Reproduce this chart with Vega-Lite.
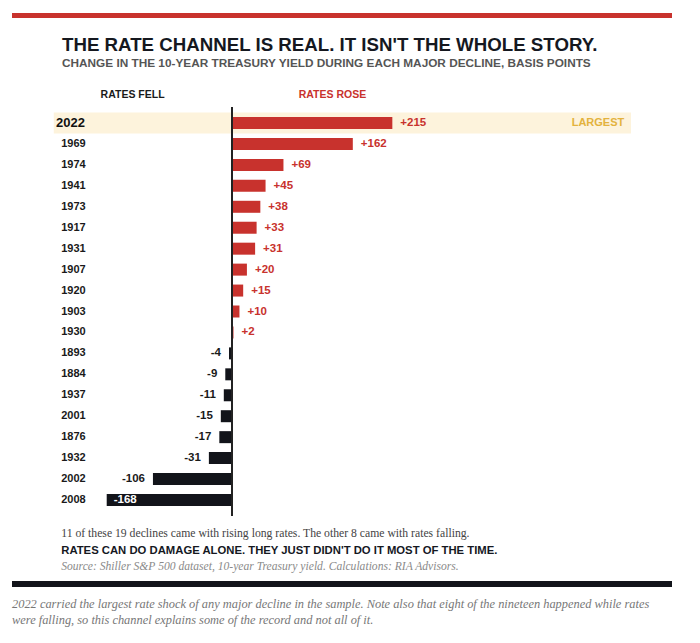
{
  "$schema": "https://vega.github.io/schema/vega-lite/v6.json",
  "description": "Change in the 10-year Treasury yield during each major decline, basis points.",
  "background": "white",
  "padding": {"left": 12, "top": 13, "right": 0, "bottom": 0},
  "config": {
    "view": {"stroke": null},
    "font": "Liberation Sans"
  },
  "datasets": {
    "declines": [
      {"year": "2022", "bp": 215, "note": "LARGEST"},
      {"year": "1969", "bp": 162},
      {"year": "1974", "bp": 69},
      {"year": "1941", "bp": 45},
      {"year": "1973", "bp": 38},
      {"year": "1917", "bp": 33},
      {"year": "1931", "bp": 31},
      {"year": "1907", "bp": 20},
      {"year": "1920", "bp": 15},
      {"year": "1903", "bp": 10},
      {"year": "1930", "bp": 2},
      {"year": "1893", "bp": -4},
      {"year": "1884", "bp": -9},
      {"year": "1937", "bp": -11},
      {"year": "2001", "bp": -15},
      {"year": "1876", "bp": -17},
      {"year": "1932", "bp": -31},
      {"year": "2002", "bp": -106},
      {"year": "2008", "bp": -168}
    ],
    "footer": [
      {"line": 1, "text": "11 of these 19 declines came with rising long rates. The other 8 came with rates falling."},
      {"line": 2, "text": "RATES CAN DO DAMAGE ALONE. THEY JUST DIDN'T DO IT MOST OF THE TIME."},
      {"line": 3, "text": "Source: Shiller S&P 500 dataset, 10-year Treasury yield. Calculations: RIA Advisors."}
    ],
    "caption": [
      {"line": 1, "text": "2022 carried the largest rate shock of any major decline in the sample. Note also that eight of the nineteen happened while rates"},
      {"line": 2, "text": "were falling, so this channel explains some of the record and not all of it."}
    ]
  },
  "spacing": 11,
  "vconcat": [
    {
      "spacing": 17,
      "vconcat": [
        {
          "width": 660,
          "height": 5,
          "data": {"values": [{"part": "top rule"}]},
          "mark": {"type": "rect", "color": "#c8322d"}
        },
        {
          "width": 660,
          "height": 409,
          "title": {
            "text": "THE RATE CHANNEL IS REAL. IT ISN'T THE WHOLE STORY.",
            "subtitle": "CHANGE IN THE 10-YEAR TREASURY YIELD DURING EACH MAJOR DECLINE, BASIS POINTS",
            "anchor": "start",
            "frame": "group",
            "dx": 50,
            "font": "Liberation Sans",
            "fontSize": 18.7,
            "fontWeight": "bold",
            "color": "#15181f",
            "subtitleFont": "Liberation Sans",
            "subtitleFontSize": 11.8,
            "subtitleFontWeight": "bold",
            "subtitleColor": "#555555",
            "subtitlePadding": 4,
            "offset": 19
          },
          "data": {"name": "declines"},
          "transform": [
            {"calculate": "(datum.bp > 0 ? '+' : '') + datum.bp", "as": "label"}
          ],
          "encoding": {
            "y": {
              "field": "year",
              "type": "nominal",
              "sort": {"field": "bp", "order": "descending"},
              "scale": {"paddingInner": 0, "paddingOuter": 0.265},
              "axis": null
            }
          },
          "layer": [
            {
              "transform": [{"filter": "datum.note"}],
              "mark": {"type": "rect", "color": "#fdf3dc"},
              "encoding": {
                "x": {"datum": -239, "type": "quantitative"},
                "x2": {"datum": 535}
              }
            },
            {
              "mark": {"type": "bar", "height": 12},
              "encoding": {
                "x": {
                  "field": "bp",
                  "type": "quantitative",
                  "scale": {"domain": [-295, 590], "nice": false, "zero": false},
                  "axis": {
                    "orient": "top",
                    "values": [-134, 134],
                    "labelExpr": "datum.value > 0 ? 'RATES ROSE' : 'RATES FELL'",
                    "domain": false,
                    "ticks": false,
                    "grid": false,
                    "title": null,
                    "labelFont": "Liberation Sans",
                    "labelFontSize": 10.5,
                    "labelFontWeight": "bold",
                    "labelPadding": 8,
                    "labelColor": {
                      "condition": {"test": "datum.value > 0", "value": "#c8322d"},
                      "value": "#1a1a1a"
                    }
                  }
                },
                "x2": {"datum": 0},
                "color": {
                  "condition": {"test": "datum.bp > 0", "value": "#c8322d"},
                  "value": "#12141a"
                }
              }
            },
            {
              "transform": [{"filter": "datum.bp > 0"}],
              "mark": {"type": "text", "align": "left", "baseline": "middle", "dx": 8, "fontSize": 11.5, "fontWeight": "bold", "color": "#c8322d"},
              "encoding": {
                "x": {"field": "bp", "type": "quantitative"},
                "text": {"field": "label"}
              }
            },
            {
              "transform": [{"filter": "datum.bp < 0 && datum.bp > -150"}],
              "mark": {"type": "text", "align": "right", "baseline": "middle", "dx": -8, "fontSize": 11.5, "fontWeight": "bold", "color": "#1a1a1a"},
              "encoding": {
                "x": {"field": "bp", "type": "quantitative"},
                "text": {"field": "label"}
              }
            },
            {
              "transform": [{"filter": "datum.bp <= -150"}],
              "mark": {"type": "text", "align": "left", "baseline": "middle", "dx": 7, "fontSize": 11.5, "fontWeight": "bold", "color": "white"},
              "encoding": {
                "x": {"field": "bp", "type": "quantitative"},
                "text": {"field": "label"}
              }
            },
            {
              "transform": [{"filter": "!datum.note"}],
              "mark": {"type": "text", "align": "left", "baseline": "middle", "fontSize": 11, "fontWeight": "bold", "color": "#1a1a1a"},
              "encoding": {
                "x": {"datum": -229, "type": "quantitative"},
                "text": {"field": "year"}
              }
            },
            {
              "transform": [{"filter": "datum.note"}],
              "mark": {"type": "text", "align": "left", "baseline": "middle", "fontSize": 13, "fontWeight": "bold", "color": "#111111"},
              "encoding": {
                "x": {"datum": -236, "type": "quantitative"},
                "text": {"field": "year"}
              }
            },
            {
              "transform": [{"filter": "datum.note"}],
              "mark": {"type": "text", "align": "right", "baseline": "middle", "fontSize": 11, "fontWeight": "bold", "color": "#e3b23c"},
              "encoding": {
                "x": {"datum": 526, "type": "quantitative"},
                "text": {"field": "note"}
              }
            },
            {
              "mark": {"type": "rule", "color": "#222222", "strokeWidth": 2},
              "encoding": {
                "x": {"datum": 0, "type": "quantitative"},
                "y": null
              }
            }
          ]
        }
      ]
    },
    {
      "spacing": 8,
      "vconcat": [
        {
          "width": 660,
          "height": 33,
          "data": {"name": "footer"},
          "encoding": {
            "x": {"datum": -229, "type": "quantitative", "scale": {"domain": [-295, 590], "nice": false, "zero": false}, "axis": null},
            "y": {"field": "line", "type": "ordinal", "scale": {"type": "point", "padding": 0}, "axis": null},
            "text": {"field": "text"}
          },
          "layer": [
            {
              "transform": [{"filter": "datum.line == 1"}],
              "mark": {"type": "text", "align": "left", "baseline": "alphabetic", "font": "Liberation Serif", "fontSize": 11.7, "color": "#444444"}
            },
            {
              "transform": [{"filter": "datum.line == 2"}],
              "mark": {"type": "text", "align": "left", "baseline": "alphabetic", "font": "Liberation Sans", "fontSize": 11.3, "fontWeight": "bold", "color": "#15181f"}
            },
            {
              "transform": [{"filter": "datum.line == 3"}],
              "mark": {"type": "text", "align": "left", "baseline": "alphabetic", "font": "Liberation Serif", "fontSize": 11.6, "fontStyle": "italic", "color": "#8a8a8a"}
            }
          ]
        },
        {
          "width": 660,
          "height": 6,
          "data": {"values": [{"part": "bottom rule"}]},
          "mark": {"type": "rect", "color": "#12141a"}
        }
      ]
    },
    {
      "width": 660,
      "height": 16,
      "data": {"name": "caption"},
      "mark": {"type": "text", "align": "left", "baseline": "alphabetic", "font": "Liberation Serif", "fontSize": 12.4, "fontStyle": "italic", "color": "#777777"},
      "encoding": {
        "x": {"datum": -295, "type": "quantitative", "scale": {"domain": [-295, 590], "nice": false, "zero": false}, "axis": null},
        "y": {"field": "line", "type": "ordinal", "scale": {"type": "point", "padding": 0}, "axis": null},
        "text": {"field": "text"}
      }
    }
  ]
}
